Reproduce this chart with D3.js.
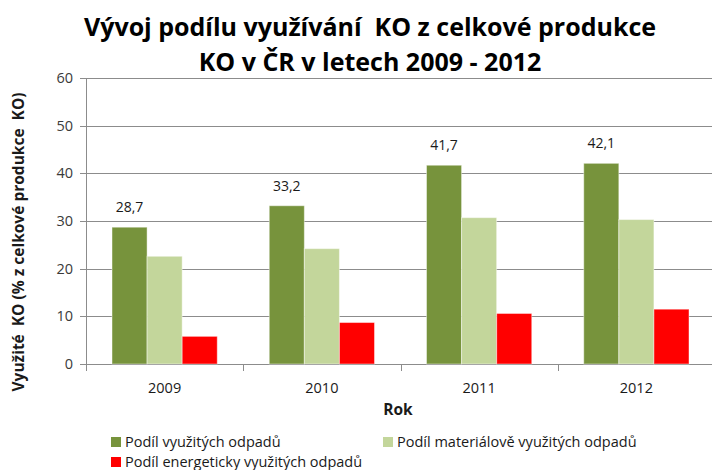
<!DOCTYPE html>
<html>
<head>
<meta charset="utf-8">
<script src="https://cdn.jsdelivr.net/npm/d3@7"></script>
<style>
  body { margin: 0; background: #fff; }
  svg text { font-family: "Open Sans", "Noto Sans", sans-serif; }
</style>
</head>
<body>
<div id="chart"></div>
<script>
// Vývoj podílu využívání KO
(function() {
    const width = 712;
    const height = 470;

    const years = ['2009', '2010', '2011', '2012'];
    const seriesNames = ['Podíl využitých odpadů', 'Podíl materiálově využitých odpadů', 'Podíl energeticky využitých odpadů'];
    const seriesColors = ['#77933C', '#C3D69B', '#FF0000'];
    const usedTotal = [28.7, 33.2, 41.7, 42.1];
    const usedMaterial = [22.6, 24.2, 30.7, 30.3];
    const usedEnergy = [5.8, 8.7, 10.6, 11.5];
    const yTicks = [0, 10, 20, 30, 40, 50, 60];

    const seriesValues = [usedTotal, usedMaterial, usedEnergy];

    const plot = {left: 86, right: 715, top: 78, bottom: 364};

    const svg = d3.select('#chart')
        .append('svg')
        .attr('width', width)
        .attr('height', height);

    const x = d3.scaleBand()
        .domain(years)
        .range([plot.left, plot.right]);

    const xInner = d3.scaleBand()
        .domain(d3.range(seriesNames.length))
        .range([26, x.bandwidth() - 26]);

    const y = d3.scaleLinear()
        .domain([0, 60])
        .range([plot.bottom, plot.top]);

    // gridlines
    svg.append('g')
        .selectAll('line')
        .data(yTicks)
        .enter()
        .append('line')
        .attr('x1', plot.left - 6)
        .attr('x2', plot.right)
        .attr('y1', d => Math.round(y(d)) + 0.5)
        .attr('y2', d => Math.round(y(d)) + 0.5)
        .attr('stroke', '#8c8c8c')
        .attr('stroke-width', 1);

    // y tick labels
    svg.append('g')
        .selectAll('text')
        .data(yTicks)
        .enter()
        .append('text')
        .attr('x', 73)
        .attr('y', d => y(d))
        .attr('dy', '0.35em')
        .attr('text-anchor', 'end')
        .attr('font-size', '14.5px')
        .attr('fill', '#3a3a3a')
        .text(d => d);

    // axis lines
    svg.append('line')
        .attr('x1', plot.left + 0.5).attr('x2', plot.left + 0.5)
        .attr('y1', plot.top).attr('y2', plot.bottom)
        .attr('stroke', '#8c8c8c');

    svg.append('g')
        .selectAll('line')
        .data(years.slice(1).concat(['end']))
        .enter()
        .append('line')
        .attr('x1', (d, i) => Math.round(x(years[0]) + x.bandwidth() * (i + 1)) + 0.5)
        .attr('x2', (d, i) => Math.round(x(years[0]) + x.bandwidth() * (i + 1)) + 0.5)
        .attr('y1', plot.bottom)
        .attr('y2', plot.bottom + 7)
        .attr('stroke', '#8c8c8c');
    svg.append('line')
        .attr('x1', plot.left + 0.5).attr('x2', plot.left + 0.5)
        .attr('y1', plot.bottom).attr('y2', plot.bottom + 7)
        .attr('stroke', '#8c8c8c');

    // bars
    const groups = svg.append('g')
        .selectAll('g')
        .data(years)
        .enter()
        .append('g')
        .attr('transform', d => `translate(${x(d)},0)`);

    groups.selectAll('rect')
        .data((d, i) => seriesValues.map((s, k) => ({k: k, value: s[i]})))
        .enter()
        .append('rect')
        .attr('x', d => xInner(d.k))
        .attr('y', d => y(d.value))
        .attr('width', xInner.bandwidth())
        .attr('height', d => y(0) - y(d.value))
        .attr('fill', d => seriesColors[d.k])
        .attr('stroke', 'rgba(255,255,255,0.45)')
        .attr('stroke-width', 1);

    // value labels on total bars
    svg.append('g')
        .selectAll('text')
        .data(years)
        .enter()
        .append('text')
        .attr('x', d => x(d) + xInner(0) + xInner.bandwidth() / 2)
        .attr('y', (d, i) => y(usedTotal[i]) - 15)
        .attr('text-anchor', 'middle')
        .attr('font-size', '14px')
        .attr('fill', '#1a1a1a')
        .text((d, i) => usedTotal[i].toFixed(1).replace('.', ','));

    // x tick labels
    svg.append('g')
        .selectAll('text')
        .data(years)
        .enter()
        .append('text')
        .attr('x', d => x(d) + x.bandwidth() / 2)
        .attr('y', 393)
        .attr('text-anchor', 'middle')
        .attr('font-size', '14.5px')
        .attr('fill', '#1a1a1a')
        .text(d => d);

    // axis titles
    svg.append('text')
        .attr('x', 398)
        .attr('y', 415)
        .attr('text-anchor', 'middle')
        .attr('font-size', '15.5px')
        .attr('font-weight', 'bold')
        .attr('fill', '#1a1a1a')
        .text('Rok');

    svg.append('text')
        .attr('transform', 'rotate(-90)')
        .attr('x', -242)
        .attr('y', 24)
        .attr('text-anchor', 'middle')
        .attr('font-size', '15.5px')
        .attr('font-weight', 'bold')
        .attr('fill', '#1a1a1a')
        .attr('xml:space', 'preserve')
        .text('Využité  KO (% z celkové produkce  KO)');

    // title
    const title = svg.append('text')
        .attr('text-anchor', 'middle')
        .attr('font-size', '25px')
        .attr('font-weight', 'bold')
        .attr('fill', '#000')
        .attr('xml:space', 'preserve');
    title.append('tspan').attr('x', 370).attr('y', 36).text('Vývoj podílu využívání  KO z celkové produkce');
    title.append('tspan').attr('x', 370).attr('y', 71).text('KO v ČR v letech 2009 - 2012');

    // legend
    const legendPos = [{x: 111, y: 447}, {x: 383, y: 447}, {x: 111, y: 467}];
    const legend = svg.append('g')
        .selectAll('g')
        .data(seriesNames)
        .enter()
        .append('g')
        .attr('transform', (d, i) => `translate(${legendPos[i].x},${legendPos[i].y})`);

    legend.append('rect')
        .attr('x', 0)
        .attr('y', -10)
        .attr('width', 10)
        .attr('height', 10)
        .attr('fill', (d, i) => seriesColors[i]);

    legend.append('text')
        .attr('x', 14)
        .attr('y', 0)
        .attr('font-size', '14.5px')
        .attr('fill', '#1a1a1a')
        .text(d => d);
})();
</script>
</body>
</html>
